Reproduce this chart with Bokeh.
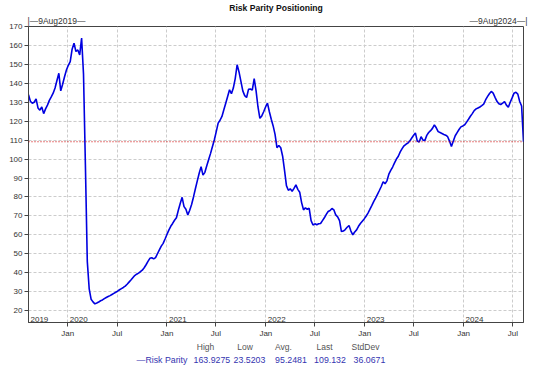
import pandas as pd
from bokeh.plotting import figure
from bokeh.models import (ColumnDataSource, Range1d, FixedTicker, DatetimeTickFormatter,
                          Span, LinearAxis)
from bokeh.core.properties import value
from bokeh.embed import file_html
from bokeh.resources import INLINE

# ---------------- data ----------------
series_name = "Risk Parity"
start_date = "2019-08-09"
end_date = "2024-08-09"
values = [
    134.0, 130.5, 129.5, 130.0, 131.8, 127.0, 125.8, 127.5, 124.0, 126.5,
    128.5, 131.0, 132.8, 134.8, 137.5, 141.5, 145.3, 136.0, 139.5, 143.5,
    147.0, 149.5, 151.5, 158.0, 161.2, 156.8, 157.6, 155.0, 163.9275, 145.0,
    97.0, 46.0, 31.5, 26.0, 24.6, 23.5203, 24.0, 24.5, 25.2, 25.6,
    26.3, 26.9, 27.4, 27.9, 28.5, 29.1, 29.7, 30.3, 31.0, 31.6,
    32.2, 32.9, 33.9, 35.0, 36.1, 37.3, 38.5, 39.2, 39.8, 40.5,
    41.3, 42.6, 44.2, 46.0, 47.6, 47.9, 47.3, 48.0, 50.0, 52.0,
    54.0, 55.5, 57.8, 60.2, 62.5, 64.5, 66.0, 67.7, 69.0, 73.0,
    76.5, 79.8, 74.9, 73.5, 70.5, 73.0, 76.0, 80.0, 84.3, 88.5,
    92.5, 96.0, 91.5, 93.0, 96.5, 99.8, 103.0, 106.6, 110.2, 114.5,
    119.0, 120.5, 122.5, 126.0, 129.5, 133.0, 136.6, 134.5, 137.5, 142.5,
    149.8, 146.0, 141.0, 136.0, 133.5, 132.5, 136.8, 137.0, 136.4, 142.5,
    136.0, 127.5, 121.5, 122.8, 125.0, 127.5, 129.5, 125.0, 121.0, 117.5,
    113.0, 106.0, 107.2, 106.0, 101.5, 94.0, 86.0, 83.5, 84.3, 83.0,
    84.5, 86.4, 84.0, 82.5, 77.0, 73.2, 74.2, 73.5, 74.0, 67.5,
    65.2, 65.8, 65.3, 65.8, 66.0, 67.5, 69.0, 70.8, 72.3, 72.8,
    73.9, 73.2, 70.5, 69.5, 67.5, 61.7, 62.0, 62.8, 64.0, 64.9,
    62.0, 60.0, 61.5, 62.6, 64.5, 66.0, 67.2, 68.4, 69.8, 71.5,
    73.4, 75.4, 77.5, 79.4, 81.4, 83.4, 85.5, 88.0, 87.0, 88.5,
    92.0, 94.0, 95.8, 98.0, 100.0, 101.5, 103.8, 105.5, 107.0, 107.8,
    108.4, 109.5, 111.0, 112.5, 113.8, 109.5, 109.0, 111.8, 110.0, 109.8,
    112.5, 114.0, 115.0, 116.2, 118.0, 116.5, 114.5, 114.0, 113.5, 113.0,
    112.6, 111.8, 109.5, 106.6, 109.5, 112.3, 114.0, 115.6, 117.0, 117.5,
    118.1, 119.5, 121.0, 122.6, 124.0, 125.6, 126.5, 127.0, 127.5, 128.2,
    129.0, 131.2, 133.0, 134.5, 135.7, 134.8, 132.6, 130.5, 129.2, 128.8,
    129.5, 130.3, 128.5, 127.4, 130.0, 132.3, 134.8, 135.3, 134.3, 130.4,
    128.0, 109.132,
]
dates = pd.date_range(start_date, periods=len(values), freq="7D")

y_ticks = list(range(20, 171, 10))
month_ticks = pd.date_range("2020-01-01", "2024-07-01", freq="6MS")
year_labels = ["2019", "2020", "2021", "2022", "2023", "2024"]
stat_names = ["High", "Low", "Avg.", "Last", "StdDev"]
stat_values = ["163.9275", "23.5203", "95.2481", "109.132", "36.0671"]
title_text = "Risk Parity Positioning"
start_label = "9Aug2019"
end_label = "9Aug2024"

# ---------------- figure ----------------
FONT = "Liberation Sans"
x0 = pd.Timestamp(start_date)
x1 = pd.Timestamp(end_date)
y0, y1 = 13.7, 170.0

p = figure(frame_width=495, frame_height=296,
           min_border_left=28, min_border_right=19,
           min_border_top=25, min_border_bottom=47,
           x_axis_type="datetime",
           x_range=Range1d(x0, x1), y_range=Range1d(y0, y1),
           output_backend="svg", toolbar_location=None)
p.background_fill_color = "white"
p.border_fill_color = "white"
p.outline_line_color = "#444444"
p.outline_line_width = 1

# title
p.title.text = title_text
p.title.align = "center"
p.title.offset = -6
p.title.standoff = 0
p.title.text_font = FONT
p.title.text_font_size = "8.6px"
p.title.text_font_style = "bold"
p.title.text_color = "#111111"

# frame helper: page pixel column -> data x (for placing text labels)
FL, FR = 28.0, 523.0
x0ms = x0.value / 1e6
x1ms = x1.value / 1e6


def sx(px):
    return int(round(x0ms + (px - FL) / (FR - FL) * (x1ms - x0ms)))


# main axes
month_ms = [t.value / 1e6 for t in month_ticks]
p.xaxis.ticker = FixedTicker(ticks=month_ms)
p.xaxis.formatter = DatetimeTickFormatter(
    milliseconds="%b", seconds="%b", minsec="%b", minutes="%b", hourmin="%b",
    hours="%b", days="%b", months="%b", years="%b")
p.yaxis.ticker = FixedTicker(ticks=y_ticks)
for ax in (p.xaxis[0], p.yaxis[0]):
    ax.axis_line_color = "#444444"
    ax.major_tick_line_color = "#444444"
    ax.major_tick_out = 4
    ax.major_tick_in = 0
    ax.minor_tick_out = 0
    ax.minor_tick_in = 0
    ax.major_label_text_font = FONT
    ax.major_label_text_font_size = "8px"
    ax.major_label_text_color = "#333333"
    ax.major_label_standoff = 2

p.xgrid.ticker = FixedTicker(ticks=month_ms)
p.ygrid.ticker = FixedTicker(ticks=y_ticks)
for g in (p.xgrid[0], p.ygrid[0]):
    g.grid_line_color = "#cccccc"
    g.grid_line_dash = "3 2"
    g.grid_line_width = 1


# text rows built as tick-label-only axes
def text_axis(centers_px, texts, loc, color, size, style="normal", standoff=1):
    ticks = [sx(c) for c in centers_px]
    ax = LinearAxis(ticker=FixedTicker(ticks=ticks),
                    major_label_overrides=dict(zip(ticks, texts)))
    ax.axis_line_color = None
    ax.major_tick_line_color = None
    ax.minor_tick_line_color = None
    ax.major_tick_out = 0
    ax.major_tick_in = 0
    ax.minor_tick_out = 0
    ax.minor_tick_in = 0
    ax.major_label_standoff = standoff
    ax.major_label_text_font = FONT
    ax.major_label_text_font_size = size
    ax.major_label_text_color = color
    ax.major_label_text_font_style = style
    p.add_layout(ax, loc)


text_axis([56, 498], ["|\u2014" + start_label + "\u2014", "\u2014" + end_label + "\u2014|"],
          "above", "#333333", "8.5px", standoff=1)
text_axis([205, 244.5, 283, 324, 365], stat_names, "below", "#555555", "8.5px", standoff=1)
text_axis([161.5, 211.4, 249, 290.5, 329.5, 369],
          ["\u2014" + series_name] + stat_values, "below", "#3434b0", "8.8px", standoff=0)

# series
src = ColumnDataSource(dict(date=dates, value=values))
p.line(x="date", y="value", source=src, line_color="#0000e0", line_width=1.6)

# last-value dotted line
p.add_layout(Span(location=values[-1], dimension="width",
                  line_color="#d00000", line_dash="1 2", line_width=1.2))

# year labels inside the frame, just above the axis
year_x = [max(pd.Timestamp(f"{y}-01-01"), x0) for y in year_labels]
ysrc = ColumnDataSource(dict(x=year_x, y=[y0] * len(year_labels), t=year_labels))
p.text(x="x", y="y", text="t", source=ysrc, x_offset=2, y_offset=-1,
       text_font=value(FONT), text_font_size="8px", text_color="#333333",
       text_baseline="bottom", text_align="left")

open("out.html", "w").write(file_html(p, INLINE))
